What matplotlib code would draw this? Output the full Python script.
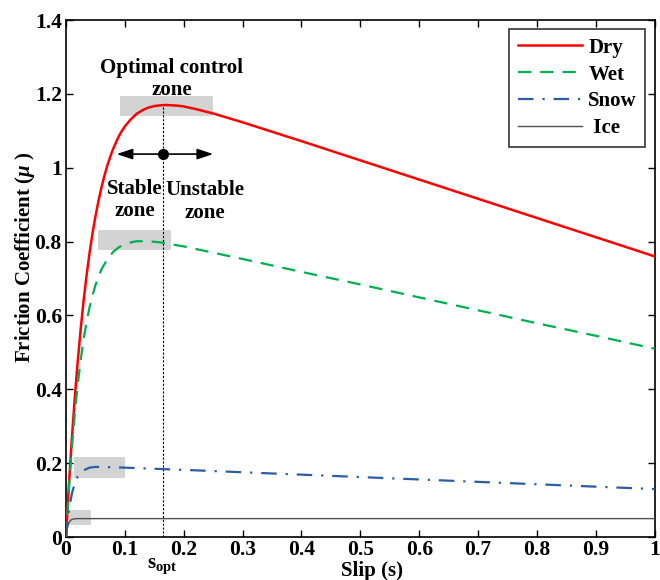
import numpy as np
import matplotlib
matplotlib.use("Agg")
import matplotlib.pyplot as plt
from matplotlib.patches import Rectangle

plt.rcParams['font.family'] = ['Liberation Serif', 'DejaVu Serif']
plt.rcParams['font.weight'] = 'bold'
plt.rcParams['mathtext.fontset'] = 'custom'
plt.rcParams['mathtext.rm'] = 'Liberation Serif:bold'
plt.rcParams['mathtext.bf'] = 'Liberation Serif:bold'
plt.rcParams['mathtext.it'] = 'Liberation Serif:italic'

# slip values and friction coefficient
s_dry = [0, 0.005, 0.01, 0.015, 0.02, 0.025, 0.03, 0.035, 0.04, 0.045, 0.05, 0.055,
         0.06, 0.065, 0.07, 0.075, 0.08, 0.085, 0.09, 0.095, 0.10, 0.11, 0.12, 0.13,
         0.14, 0.15, 0.16, 0.17, 0.18, 0.19, 0.20, 0.22, 0.25, 0.3, 0.4, 0.5, 0.6,
         0.7, 0.8, 0.9, 1.0]
mu_dry = [0, 0.142, 0.268, 0.379, 0.477, 0.564, 0.641, 0.709, 0.769, 0.822, 0.868, 0.909,
          0.945, 0.977, 1.005, 1.029, 1.051, 1.069, 1.086, 1.100, 1.112, 1.131, 1.146, 1.156,
          1.163, 1.167, 1.169, 1.170, 1.169, 1.168, 1.166, 1.159, 1.147, 1.123, 1.072, 1.020, 0.968,
          0.916, 0.864, 0.812, 0.760]

s_wet = [0, 0.005, 0.01, 0.015, 0.02, 0.025, 0.03, 0.035, 0.04, 0.045, 0.05, 0.06,
         0.07, 0.08, 0.09, 0.10, 0.11, 0.12, 0.13, 0.14, 0.16, 0.2, 0.25, 0.3, 0.4,
         0.5, 0.6, 0.7, 0.8, 0.9, 1.0]
mu_wet = [0, 0.132, 0.243, 0.336, 0.414, 0.480, 0.536, 0.583, 0.622, 0.654, 0.682, 0.724,
          0.752, 0.772, 0.785, 0.793, 0.798, 0.801, 0.801, 0.801, 0.798, 0.787, 0.770, 0.753, 0.718,
          0.684, 0.649, 0.614, 0.579, 0.545, 0.510]

s_snow = [0, 0.0025, 0.005, 0.01, 0.015, 0.02, 0.025, 0.03, 0.04, 0.05, 0.06, 0.1,
          0.2, 0.4, 0.6, 0.8, 1.0]
mu_snow = [0, 0.041, 0.073, 0.118, 0.146, 0.164, 0.174, 0.181, 0.188, 0.190, 0.190, 0.188,
           0.182, 0.169, 0.156, 0.143, 0.130]

s_ice = [0, 0.002, 0.004, 0.006, 0.01, 0.015, 0.02, 1.0]
mu_ice = [0, 0.023, 0.035, 0.042, 0.048, 0.0495, 0.05, 0.05]

s_opt = 0.164
mu_peak = 1.17

# grey highlight zones: (s0, s1, mu0, mu1)
zones = [(0.092, 0.249, 1.139, 1.195),
         (0.055, 0.178, 0.776, 0.832),
         (0.014, 0.100, 0.160, 0.217),
         (0.005, 0.042, 0.032, 0.074)]

fig = plt.figure(figsize=(6.6, 5.8), dpi=100)
ax = fig.add_axes([0.1, 0.074, 0.892, 0.8915])

for s0, s1, m0, m1 in zones:
    ax.add_patch(Rectangle((s0, m0), s1 - s0, m1 - m0, facecolor='#d3d3d3',
                           edgecolor='none', zorder=1))

ax.plot(s_dry, mu_dry, color='#ff0000', lw=1.8, label='Dry', zorder=3)
ax.plot(s_wet, mu_wet, color='#00b050', lw=1.6, dashes=(6, 4), label='Wet', zorder=3)
ax.plot(s_snow, mu_snow, color='#2a5caa', lw=1.6, dashes=(7, 4, 1, 4), label='Snow', zorder=3)
ax.plot(s_ice, mu_ice, color='#505050', lw=1.0, label=' Ice', zorder=3)

ax.plot([s_opt, s_opt], [0, mu_peak], color='black', lw=0.8, ls=(0, (2, 1.5)), zorder=2)

# stable / unstable arrow
for x_end in (0.086, 0.25):
    ax.annotate('', xy=(x_end, 1.037), xytext=(s_opt, 1.037),
                arrowprops=dict(arrowstyle='-|>,head_length=0.6,head_width=0.2',
                                color='black', lw=1.2, mutation_scale=16,
                                shrinkA=0, shrinkB=0))
ax.plot([s_opt], [1.037], 'o', color='black', ms=7, zorder=4)

ax.text(0.18, 1.184, 'Optimal control\nzone', ha='center', va='bottom', fontsize=15,
        fontweight='bold', linespacing=1.15)
ax.text(0.117, 0.856, 'Stable\nzone', ha='center', va='bottom', fontsize=15,
        fontweight='bold', linespacing=1.15)
ax.text(0.236, 0.850, 'Unstable\nzone', ha='center', va='bottom', fontsize=15,
        fontweight='bold', linespacing=1.2)

ax.set_xlim(0, 1)
ax.set_ylim(0, 1.4)
ax.set_xticks(np.arange(0, 1.01, 0.1))
ax.set_xticklabels(['0', '0.1', '0.2', '0.3', '0.4', '0.5', '0.6', '0.7', '0.8', '0.9', '1'])
ax.set_yticks(np.arange(0, 1.41, 0.2))
ax.set_yticklabels(['0', '0.2', '0.4', '0.6', '0.8', '1', '1.2', '1.4'])
ax.tick_params(direction='in', top=True, right=True, length=5, width=1,
               labelsize=15.5)
ax.tick_params(axis='x', pad=2)
ax.tick_params(axis='y', pad=3)
for lab in ax.get_xticklabels() + ax.get_yticklabels():
    lab.set_fontweight('bold')
for sp in ax.spines.values():
    sp.set_linewidth(1.2)

ax.text(s_opt, -0.05, r'$\mathbf{s}_{\mathbf{opt}}$', ha='center', va='top', fontsize=15)

ax.set_xlabel('Slip (s)', fontsize=15, fontweight='bold')
ax.xaxis.set_label_coords(0.52, -0.046)
ax.set_ylabel(r'Friction Coefficient ($\mu$ )', fontsize=15, fontweight='bold')
ax.yaxis.set_label_coords(-0.05, 0.541)

leg = ax.legend(loc='upper right', fontsize=15, handlelength=3.1, frameon=True,
                fancybox=False, edgecolor='black', borderaxespad=0.45,
                labelspacing=0.33, handletextpad=0.3, borderpad=0.4)
leg.get_frame().set_linewidth(1.2)
for t in leg.get_texts():
    t.set_fontweight('bold')

fig.savefig('out.png', dpi=100)
